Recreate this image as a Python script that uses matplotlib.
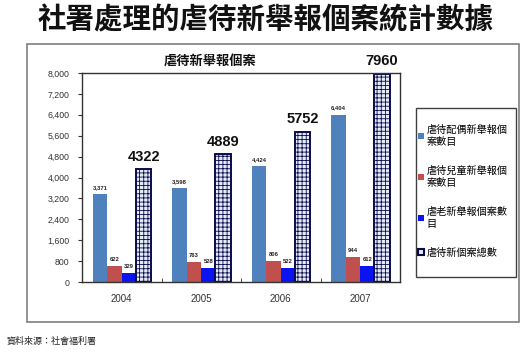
import matplotlib
matplotlib.use("Agg")
import matplotlib.pyplot as plt
from matplotlib.patches import Rectangle, Patch
from matplotlib.ticker import FixedLocator, FuncFormatter

plt.rcParams['font.family'] = ['Noto Sans CJK TC', 'DejaVu Sans']
plt.rcParams['hatch.linewidth'] = 0.6

years = ['2004', '2005', '2006', '2007']
spouse = [3371, 3598, 4424, 6404]
child = [622, 763, 806, 944]
elder = [329, 528, 522, 612]
total = [4322, 4889, 5752, 7960]

series_names = ['虐待配偶新舉報個\n案數目', '虐待兒童新舉報個\n案數目', '虐老新舉報個案數\n目', '虐待新個案總數']
main_title = '社署處理的虐待新舉報個案統計數據'
plot_title = '虐待新舉報個案'
source = '資料來源：社會福利署'
yticks = [0, 800, 1600, 2400, 3200, 4000, 4800, 5600, 6400, 7200, 8000]

num_font = 'Liberation Sans'

fig = plt.figure(figsize=(5.30, 3.56), dpi=100)
fig.patch.set_facecolor('white')

# outer chart box
fig.patches.append(Rectangle((27/530, 1 - 322/356), (519-27)/530, (322-44)/356,
                             transform=fig.transFigure, fill=False,
                             edgecolor='#7f7f7f', linewidth=1.2))
# legend box
fig.patches.append(Rectangle((416/530, 1 - 277/356), (516-416)/530, (277-108)/356,
                             transform=fig.transFigure, fill=False,
                             edgecolor='#404040', linewidth=1.0))

ax = fig.add_axes([82/530, 1 - 282/356, (400-82)/530, (282-73)/356])

w = 0.183
xs = list(range(len(years)))
colors = ['#4f81bd', '#c0504d', '#0a14f0']
vals = [spouse, child, elder]
for k, (v, c) in enumerate(zip(vals, colors)):
    pos = [x + (k - 1.5) * w for x in xs]
    ax.bar(pos, v, width=w, color=c, edgecolor='none', zorder=2)
    for p, val in zip(pos, v):
        ax.annotate(f'{val:,}', (p, val), xytext=(0, 3), textcoords='offset points',
                    ha='center', va='bottom', fontsize=4.2, fontweight='bold',
                    family=num_font, color='#222222')

pos_t = [x + 1.5 * w for x in xs]
ax.bar(pos_t, total, width=w * 1.05, color='#e4eaf8', edgecolor='#0b0b4a',
       hatch='++++', linewidth=1.4, zorder=2)
for p, val in zip(pos_t, total):
    ax.annotate(f'{val}', (p, val), xytext=(0, 4), textcoords='offset points',
                ha='center', va='bottom', fontsize=10.5, fontweight='bold',
                family=num_font, color='#111111', annotation_clip=False)

ax.set_xlim(-0.5, 3.5)
ax.set_ylim(0, 8000)
ax.set_yticks(yticks)
ax.yaxis.set_major_formatter(FuncFormatter(lambda v, p: f'{int(v):,}'))
ax.set_xticks(xs)
ax.set_xticklabels(years)
ax.xaxis.set_minor_locator(FixedLocator([0.5, 1.5, 2.5]))
ax.tick_params(axis='x', which='major', length=0, pad=9, labelsize=7, labelcolor='#333333')
ax.tick_params(axis='x', which='minor', length=3, direction='in', color='#333333')
ax.tick_params(axis='y', length=3, direction='out', pad=6, labelsize=6.3, labelcolor='#333333',
               color='#333333')
for lab in ax.get_xticklabels() + ax.get_yticklabels():
    lab.set_family(num_font)
for s in ax.spines.values():
    s.set_color('#333333')
    s.set_linewidth(1.0)

fig.text(210/530, 1 - 62/356, plot_title, ha='center', va='center', fontsize=9.5,
         fontweight='bold', color='#111111')
fig.text(266/530, 1 - 20/356, main_title, ha='center', va='center', fontsize=20.5,
         fontweight='bold', color='#111111')
fig.text(7/530, 1 - 341/356, source, ha='left', va='center', fontsize=6.5, color='#222222')

handles = [Patch(facecolor=colors[0], edgecolor='none'),
           Patch(facecolor=colors[1], edgecolor='none'),
           Patch(facecolor=colors[2], edgecolor='none'),
           Patch(facecolor='#e4eaf8', edgecolor='#0b0b4a', linewidth=1.5)]
fig.legend(handles, series_names, loc='upper left', bbox_to_anchor=(418/530, 1 - 125/356),
           frameon=False, fontsize=7.3, handlelength=0.55, handleheight=0.55,
           handletextpad=0.3, labelspacing=1.9, borderpad=0, borderaxespad=0)

fig.savefig('out.png', dpi=100)
